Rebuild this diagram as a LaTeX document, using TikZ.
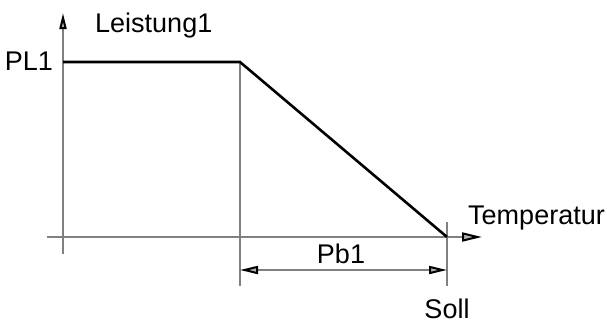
\documentclass[tikz,border=0pt]{standalone}
\usepackage{fontspec}
\setmainfont{Liberation Sans}
\usetikzlibrary{arrows.meta}
\begin{document}
\begin{tikzpicture}[x=1pt,y=-1pt,
  thin line/.style={draw=black!50,line width=1.5pt},
  curve/.style={draw=black,line width=2.6pt},
  lbl/.style={inner sep=0pt,font=\fontsize{27}{31}\selectfont}]
\useasboundingbox (0,0) rectangle (607,324);
% coordinates
\coordinate (ybot) at (63,254);
\coordinate (ytop) at (63,13);
\coordinate (xleft) at (47,237);
\coordinate (xright) at (482,237);
\coordinate (p0) at (63,62);
\coordinate (p1) at (240,62);
\coordinate (p2) at (447,237);
\coordinate (v1b) at (240,286);
\coordinate (v2t) at (447,222);
\coordinate (v2b) at (447,286);
\coordinate (d1) at (240,270);
\coordinate (d2) at (447,270);
% axes
\draw[thin line,-{Triangle[open,length=16pt,width=7pt,line width=2pt,color=black,fill=black!30]}] (ybot) -- (ytop);
\draw[thin line,-{Triangle[open,length=20pt,width=9pt,line width=2pt,color=black,fill=black!30]}] (xleft) -- (xright);
% extension lines
\draw[thin line] (p1) -- (v1b);
\draw[thin line] (v2t) -- (v2b);
% dimension line
\draw[thin line,{Triangle[open,length=18pt,width=8pt,line width=2pt,color=black,fill=black!30]}-{Triangle[open,length=18pt,width=8pt,line width=2pt,color=black,fill=black!30]}] (d1) -- (d2);
% curve
\draw[curve,line join=miter] (p0) -- (p1) -- (p2);
% labels
\node[lbl,anchor=base west] (leistung) at (95,32) {Leistung1};
\node[lbl,anchor=base east] (pl1) at (53,70) {PL1};
\node[lbl,anchor=base] (pb1) at (341,263) {Pb1};
\node[lbl,anchor=base] (soll) at (447,318) {Soll};
\node[lbl,anchor=base west] (temp) at (468,224) {Temperatur};
\end{tikzpicture}
\end{document}
